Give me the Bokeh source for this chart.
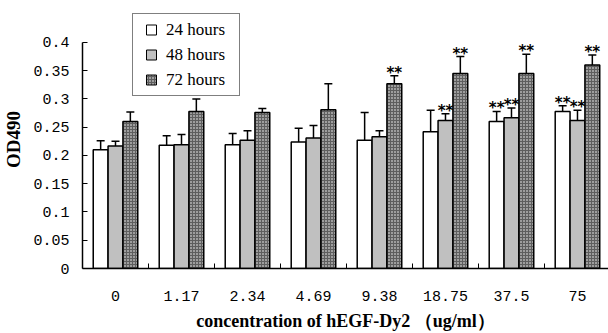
import math
from bokeh.plotting import figure
from bokeh.models import (ColumnDataSource, Range1d, FixedTicker, Whisker, TeeHead,
                          LabelSet, Legend, LegendItem)
from bokeh.core.properties import value
from bokeh.embed import file_html
from bokeh.resources import INLINE

# ---- data ----
concentrations = ["0", "1.17", "2.34", "4.69", "9.38", "18.75", "37.5", "75"]
series_names = ["24 hours", "48 hours", "72 hours"]
od_24h = [0.210, 0.218, 0.219, 0.224, 0.227, 0.242, 0.260, 0.278]
od_48h = [0.217, 0.219, 0.227, 0.231, 0.233, 0.262, 0.267, 0.262]
od_72h = [0.260, 0.278, 0.276, 0.281, 0.327, 0.345, 0.345, 0.360]
err_24h = [0.016, 0.017, 0.020, 0.024, 0.049, 0.038, 0.018, 0.010]
err_48h = [0.008, 0.018, 0.017, 0.022, 0.011, 0.012, 0.017, 0.018]
err_72h = [0.017, 0.022, 0.007, 0.046, 0.014, 0.030, 0.034, 0.018]
sig_24h = [False, False, False, False, False, False, True, True]
sig_48h = [False, False, False, False, False, True, True, True]
sig_72h = [False, False, False, False, True, True, True, True]
sig_mark = "**"
y_ticks = [0, 0.05, 0.1, 0.15, 0.2, 0.25, 0.3, 0.35, 0.4]
y_tick_labels = ["0", "0.05", "0.1", "0.15", "0.2", "0.25", "0.3", "0.35", "0.4"]
x_title = "concentration of hEGF-Dy2 （ug/ml）"
y_title = "OD490"

# ---- style ----
BAR_W = 0.225
offsets = [-0.225, 0.0, 0.225]
serif = "Liberation Serif"
mono = "Liberation Mono"
Y_AXIS_TOP = 0.4
Y_VIEW_TOP = 0.4566   # extra headroom so the legend and stars sit above the axis end

p = figure(width=608, height=333, x_range=Range1d(-0.5, 7.47), y_range=Range1d(0, Y_VIEW_TOP),
           output_backend="svg", toolbar_location=None,
           min_border_left=82, min_border_right=0, min_border_top=10, min_border_bottom=65)
p.outline_line_color = None
p.xgrid.visible = False
p.ygrid.visible = False
p.background_fill_color = "white"
p.border_fill_color = "white"

series = [(od_24h, err_24h, sig_24h), (od_48h, err_48h, sig_48h), (od_72h, err_72h, sig_72h)]
styles = [
    dict(fill_color="white"),
    dict(fill_color="#c0c0c0"),
    dict(fill_color="#5e5e5e", hatch_pattern="dot", hatch_color="white", hatch_scale=3, hatch_weight=1.2),
]

legend_items = []
star_x, star_y, star_t = [], [], []
for k, ((vals, errs, sig), st) in enumerate(zip(series, styles)):
    xs = [i + offsets[k] for i in range(len(concentrations))]
    tops = [v + e for v, e in zip(vals, errs)]
    src = ColumnDataSource(dict(x=xs, v=vals, top=tops))
    p.vbar(x="x", top="v", bottom=0, width=BAR_W, source=src,
           line_color="black", line_width=1.5, **st)
    p.add_layout(Whisker(base="x", lower="v", upper="top", source=src, dimension="height",
                         line_color="black", line_width=1.5, lower_head=None,
                         upper_head=TeeHead(size=8, line_color="black", line_width=1.5)))
    lr = p.scatter(x="x", y="v", source=src, marker="square", line_color="black",
                   line_width=1, visible=False, **st)
    legend_items.append(LegendItem(label=series_names[k], renderers=[lr]))
    for x, t, s in zip(xs, tops, sig):
        if s:
            star_x.append(x)
            star_y.append(t)
            star_t.append(sig_mark)

star_src = ColumnDataSource(dict(x=star_x, y=star_y, t=star_t))
p.add_layout(LabelSet(x="x", y="y", text="t", source=star_src, y_offset=3,
                      text_align="center", text_baseline="middle",
                      text_font=value("DejaVu Sans"), text_font_style="bold",
                      text_font_size="15px", text_color="black"))

# axes
xa = p.xaxis[0]
xa.ticker = FixedTicker(ticks=list(range(len(concentrations))),
                        minor_ticks=[i + 0.5 for i in range(len(concentrations))])
xa.major_label_overrides = {i: c for i, c in enumerate(concentrations)}
xa.major_tick_in = 0
xa.major_tick_out = 0
xa.minor_tick_in = 5
xa.minor_tick_out = 0
xa.minor_tick_line_color = "black"
xa.axis_line_color = "black"
xa.axis_line_width = 1.5
xa.major_label_standoff = 22
xa.major_label_text_font = mono
xa.major_label_text_font_size = "15px"
xa.major_label_text_color = "black"
xa.axis_label = x_title
xa.axis_label_text_font = serif
xa.axis_label_text_font_style = "bold"
xa.axis_label_text_font_size = "18px"
xa.axis_label_text_color = "black"
xa.axis_label_standoff = 7

ya = p.yaxis[0]
ya.ticker = FixedTicker(ticks=y_ticks)
ya.bounds = (0, Y_AXIS_TOP)
ya.major_label_overrides = {t: l for t, l in zip(y_ticks, y_tick_labels)}
ya.major_tick_in = 5
ya.major_tick_out = 0
ya.major_tick_line_color = "black"
ya.minor_tick_line_color = None
ya.axis_line_color = "black"
ya.axis_line_width = 1.5
ya.major_label_standoff = 13
ya.major_label_text_font = mono
ya.major_label_text_font_size = "15px"
ya.major_label_text_color = "black"
ya.axis_label = y_title
ya.axis_label_text_font = serif
ya.axis_label_text_font_style = "bold"
ya.axis_label_text_font_size = "19px"
ya.axis_label_text_color = "black"
ya.axis_label_standoff = 6

legend = Legend(items=legend_items, location=(50, 172), margin=0, padding=3, spacing=0,
                glyph_width=30, glyph_height=25, label_height=25, label_width=70,
                label_standoff=0, label_text_font=serif, label_text_font_size="17px",
                label_text_color="black", border_line_color="black", border_line_width=1.5,
                background_fill_color="white", background_fill_alpha=1)
p.add_layout(legend)

open("out.html", "w").write(file_html(p, INLINE))
